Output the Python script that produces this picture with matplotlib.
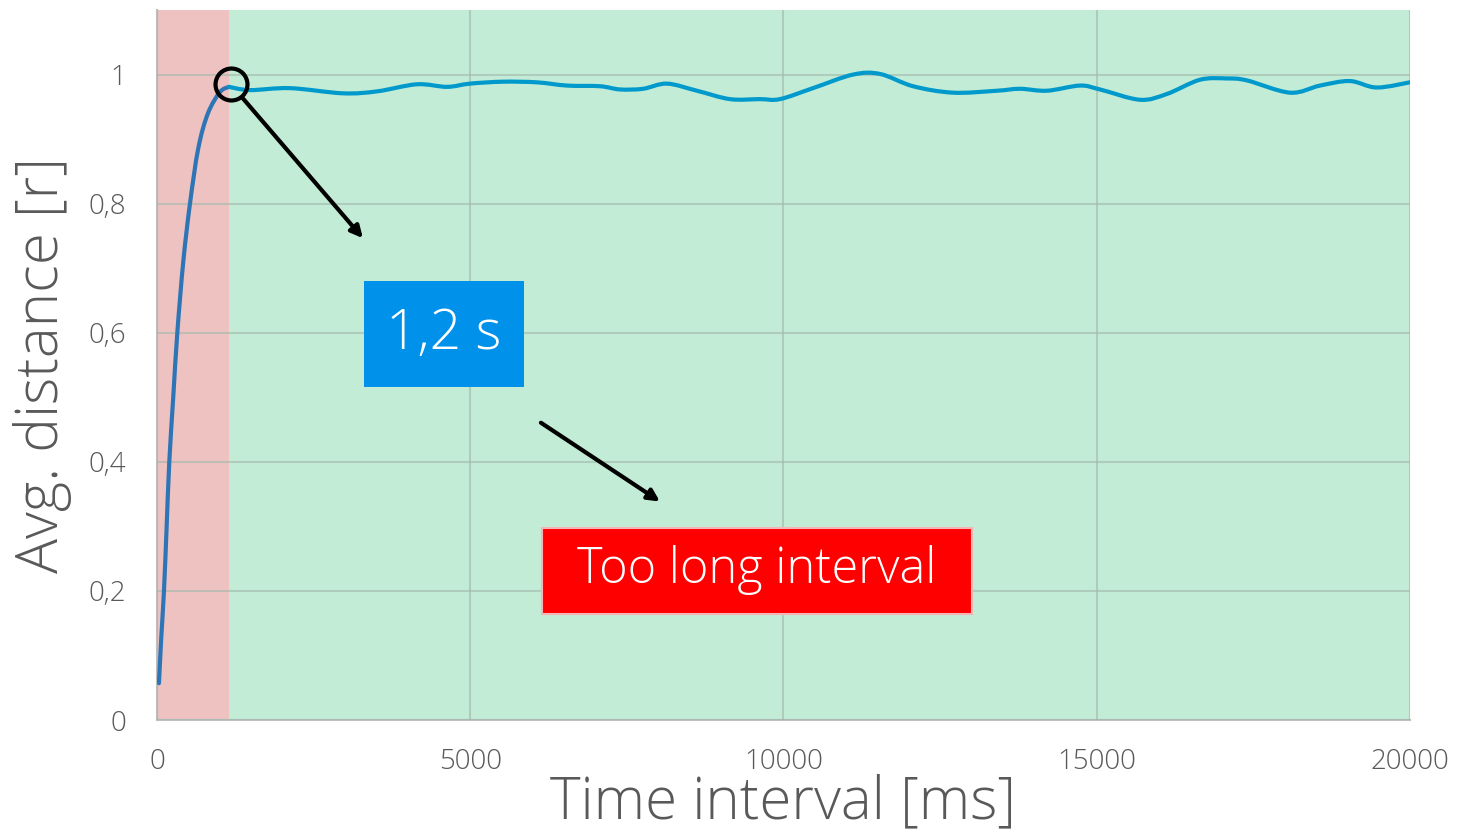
import matplotlib
matplotlib.use("Agg")
import matplotlib.pyplot as plt
from matplotlib.patches import Rectangle, PathPatch
from matplotlib.path import Path
from matplotlib.ticker import FuncFormatter

# Rising part (red zone), ms -> avg distance
rise_ms = [32, 70, 112, 155, 197, 260, 325, 420, 527, 660, 814, 1006, 1150]
rise_val = [0.057, 0.13, 0.20, 0.30, 0.40, 0.50, 0.60, 0.71, 0.80, 0.886, 0.94, 0.973, 0.981]

# Steady part (green zone)
flat_ms = [1150, 1484, 2123, 2969, 3512, 4150, 4629, 4996, 5523, 6065, 6544, 7071,
           7390, 7757, 8140, 8619, 9146, 9625, 9944, 10471, 11110, 11541, 12068,
           12707, 13408, 13775, 14206, 14733, 15052, 15691, 16121, 16648, 17079,
           17398, 18085, 18564, 19042, 19473, 20048]
flat_val = [0.981, 0.976, 0.979, 0.971, 0.974, 0.985, 0.981, 0.986, 0.989, 0.988, 0.983, 0.982,
            0.977, 0.978, 0.986, 0.975, 0.962, 0.962, 0.962, 0.979, 1.000, 1.001, 0.982,
            0.972, 0.975, 0.978, 0.975, 0.983, 0.977, 0.961, 0.970, 0.992, 0.994,
            0.991, 0.972, 0.983, 0.990, 0.980, 0.989]

red_zone = (0, 1150)
green_zone = (1150, 20000)
x_ticks = [0, 5000, 10000, 15000, 20000]
y_ticks = [0, 0.2, 0.4, 0.6, 0.8, 1.0]

FONT = "Open Sans"
W = 300
GRAY = "#595959"


def smooth_path(xs, ys, k=1 / 6):
    # Catmull-Rom style cubic bezier through the points (like a "smoothed line")
    verts = [(xs[0], ys[0])]
    codes = [Path.MOVETO]
    n = len(xs)
    for i in range(n - 1):
        x0, y0 = (xs[i - 1], ys[i - 1]) if i > 0 else (xs[i], ys[i])
        x1, y1 = xs[i], ys[i]
        x2, y2 = xs[i + 1], ys[i + 1]
        x3, y3 = (xs[i + 2], ys[i + 2]) if i + 2 < n else (x2, y2)
        verts += [(x1 + (x2 - x0) * k, y1 + (y2 - y0) * k),
                  (x2 - (x3 - x1) * k, y2 - (y3 - y1) * k),
                  (x2, y2)]
        codes += [Path.CURVE4] * 3
    return Path(verts, codes)


fig = plt.figure(figsize=(14.6, 8.38), dpi=100)
ax = fig.add_axes([0.1075, 0.1408, 0.8582, 0.8472])

ax.axvspan(*red_zone, color="#efc2c2", zorder=1, lw=0)
ax.axvspan(*green_zone, color="#c3ecd6", zorder=1, lw=0)

ax.add_patch(PathPatch(smooth_path(rise_ms, rise_val), fill=False, edgecolor="#2e75b6",
                       lw=3, zorder=3, capstyle="round"))
ax.add_patch(PathPatch(smooth_path(flat_ms, flat_val), fill=False, edgecolor="#0099cc",
                       lw=3, zorder=3, capstyle="round"))

ax.set_xlim(0, 20000)
ax.set_ylim(0, 1.1)
ax.set_xticks(x_ticks)
ax.set_yticks(y_ticks)
ax.yaxis.set_major_formatter(FuncFormatter(lambda v, p: f"{v:g}".replace(".", ",")))
ax.set_axisbelow(False)
ax.grid(True, color="#9fb8aa", alpha=0.6, lw=1.5)
ax.tick_params(length=0, labelsize=20, labelcolor=GRAY)
ax.tick_params(axis="x", pad=20)
ax.tick_params(axis="y", pad=22)
for lab in ax.get_xticklabels() + ax.get_yticklabels():
    lab.set_fontfamily(FONT)
    lab.set_fontweight(W)

for s in ["top", "right"]:
    ax.spines[s].set_visible(False)
for s in ["left", "bottom"]:
    ax.spines[s].set_color("#bfbfbf")
    ax.spines[s].set_linewidth(1.5)

ax.set_xlabel("Time interval [ms]", fontsize=42, color=GRAY, family=FONT,
              fontweight=W, labelpad=-2)
ax.set_ylabel("Avg. distance [r]", fontsize=42, color=GRAY, family=FONT,
              fontweight=W, labelpad=12)

# circle marking the knee
ax.plot([1181], [0.986], marker="o", ms=23, mfc="none", mec="black", mew=3, zorder=5)

# arrows
arrow = dict(arrowstyle="-|>,head_length=0.7,head_width=0.35", color="black", lw=3,
             shrinkA=0, shrinkB=0)
ax.annotate("", xy=(3288, 0.7465), xytext=(1373, 0.963), arrowprops=arrow, zorder=5)
ax.annotate("", xy=(8029, 0.3385), xytext=(6129, 0.4606), arrowprops=arrow, zorder=5)

# labels in boxes
ax.add_patch(Rectangle((3304, 0.516), 2553, 0.164, color="#0091ea", zorder=4, lw=0))
ax.text(4581, 0.598, "1,2 s", fontsize=40, color="white", family=FONT,
        fontweight=W, ha="center", va="center", zorder=6)
ax.add_patch(Rectangle((6145, 0.1638), 6863, 0.133, facecolor="#ff0000",
                       edgecolor="#f5b5b5", lw=1.5, zorder=4))
ax.text(9577, 0.232, "Too long interval", fontsize=35, color="white", family=FONT,
        fontweight=W, ha="center", va="center", zorder=6)

fig.savefig("out.png", dpi=100)
